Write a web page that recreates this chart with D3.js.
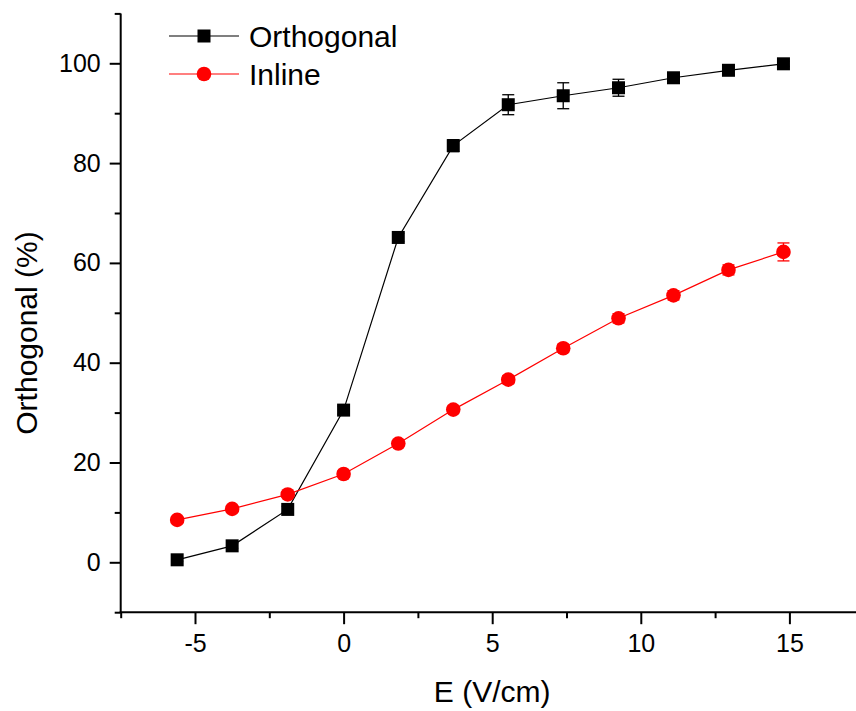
<!DOCTYPE html>
<html><head><meta charset="utf-8">
<script src="https://cdn.jsdelivr.net/npm/d3@7"></script>
<style>body{margin:0;background:#fff}svg{display:block}text{font-family:"Liberation Sans",Arial,sans-serif}</style>
</head><body>
<svg id="c" width="856" height="711"></svg>
<script>
const eField = [-5.6, -3.75, -1.88, 0, 1.84, 3.69, 5.54, 7.39, 9.25, 11.1, 12.95, 14.8];
const orthogonal = [0.5, 3.3, 10.6, 30.5, 65.1, 83.5, 91.7, 93.5, 95.1, 97.1, 98.6, 99.9];
const orthogonalErr = [0.3, 0.5, 0.6, 0.8, 0.8, 1.2, 2.0, 2.6, 1.7, 0.8, 0.9, 0.5];
const inline = [8.5, 10.7, 13.6, 17.7, 23.8, 30.6, 36.6, 42.9, 48.9, 53.5, 58.6, 62.2];
const inlineErr = [0.5, 0.5, 0.6, 0.6, 0.6, 0.7, 0.8, 0.8, 0.9, 0.9, 1.0, 1.8];
const xMajorTicks = [-5, 0, 5, 10, 15];
const xMinorTicks = [-7.5, -2.5, 2.5, 7.5, 12.5, 17.5];
const yMajorTicks = [0, 20, 40, 60, 80, 100];
const yMinorTicks = [-10, 10, 30, 50, 70, 90, 110];
const seriesNames = ["Orthogonal", "Inline"];

const svg = d3.select("#c");
const x = d3.scaleLinear().domain([-7.5, 17.5]).range([120.7, 863.7]);
const y = d3.scaleLinear().domain([-10, 110]).range([612.2, 13.4]);
const fontTick = 25, fontTitle = 30;
const fmt = d => String(d);

// axes
const xAxisG = svg.append("g").attr("transform", `translate(0,${y(-10)})`);
xAxisG.call(d3.axisBottom(x).tickValues(xMajorTicks).tickSize(12).tickPadding(10).tickFormat(fmt));
xAxisG.append("g").call(d3.axisBottom(x).tickValues(xMinorTicks).tickSize(6).tickFormat(""));
const yAxisG = svg.append("g").attr("transform", `translate(${x(-7.5)},0)`);
yAxisG.call(d3.axisLeft(y).tickValues(yMajorTicks).tickSize(11).tickPadding(9).tickFormat(fmt));
yAxisG.append("g").call(d3.axisLeft(y).tickValues(yMinorTicks).tickSize(6).tickFormat(""));
[xAxisG, yAxisG].forEach(g => {
  g.selectAll("path.domain").remove();
  g.selectAll(".tick line").attr("stroke", "#000").attr("stroke-width", 2);
  g.selectAll(".tick text").attr("fill", "#000").style("font-size", fontTick + "px").style("font-family", '"Liberation Sans",Arial,sans-serif');
});
// axis lines
svg.append("line").attr("x1", x(-7.5) - 1).attr("x2", 856).attr("y1", y(-10)).attr("y2", y(-10)).attr("stroke", "#000").attr("stroke-width", 2);
svg.append("line").attr("x1", x(-7.5)).attr("x2", x(-7.5)).attr("y1", y(110)).attr("y2", y(-10)).attr("stroke", "#000").attr("stroke-width", 2);

// titles
svg.append("text").attr("x", (x(-7.5) + x(17.5)) / 2).attr("y", 702).attr("text-anchor", "middle")
  .style("font-size", fontTitle + "px").text("E (V/cm)");
svg.append("text").attr("transform", "translate(37,333) rotate(-90)").attr("text-anchor", "middle")
  .style("font-size", fontTitle + "px").text("Orthogonal (%)");

function drawSeries(vals, errs, color, shape) {
  const pts = eField.map((e, i) => ({x: e, y: vals[i], err: errs[i]}));
  svg.append("path").datum(pts).attr("fill", "none").attr("stroke", color).attr("stroke-width", 1.2)
    .attr("d", d3.line().x(d => x(d.x)).y(d => y(d.y)));
  const eb = svg.append("g").attr("stroke", color).attr("stroke-width", 1.3);
  pts.forEach(d => {
    const cx = x(d.x), y1 = y(d.y + d.err), y2 = y(d.y - d.err);
    eb.append("line").attr("x1", cx).attr("x2", cx).attr("y1", y1).attr("y2", y2);
    eb.append("line").attr("x1", cx - 6).attr("x2", cx + 6).attr("y1", y1).attr("y2", y1);
    eb.append("line").attr("x1", cx - 6).attr("x2", cx + 6).attr("y1", y2).attr("y2", y2);
  });
  const mk = svg.append("g");
  pts.forEach(d => {
    if (shape === "square") {
      mk.append("rect").attr("x", x(d.x) - 6.5).attr("y", y(d.y) - 6.5).attr("width", 13).attr("height", 13).attr("fill", color);
    } else {
      mk.append("circle").attr("cx", x(d.x)).attr("cy", y(d.y)).attr("r", 7.3).attr("fill", color);
    }
  });
}
drawSeries(orthogonal, orthogonalErr, "#000", "square");
drawSeries(inline, inlineErr, "#ff0000", "circle");

// legend
const legend = [{name: seriesNames[0], color: "#000", shape: "square", cy: 36},
                {name: seriesNames[1], color: "#ff0000", shape: "circle", cy: 74}];
legend.forEach(l => {
  svg.append("line").attr("x1", 169).attr("x2", 239).attr("y1", l.cy).attr("y2", l.cy).attr("stroke", l.color).attr("stroke-width", 1.2);
  if (l.shape === "square") svg.append("rect").attr("x", 204 - 6.5).attr("y", l.cy - 6.5).attr("width", 13).attr("height", 13).attr("fill", l.color);
  else svg.append("circle").attr("cx", 204).attr("cy", l.cy).attr("r", 7.3).attr("fill", l.color);
  svg.append("text").attr("x", 249).attr("y", l.cy + 11).style("font-size", fontTitle + "px").text(l.name);
});
</script>
</body></html>
